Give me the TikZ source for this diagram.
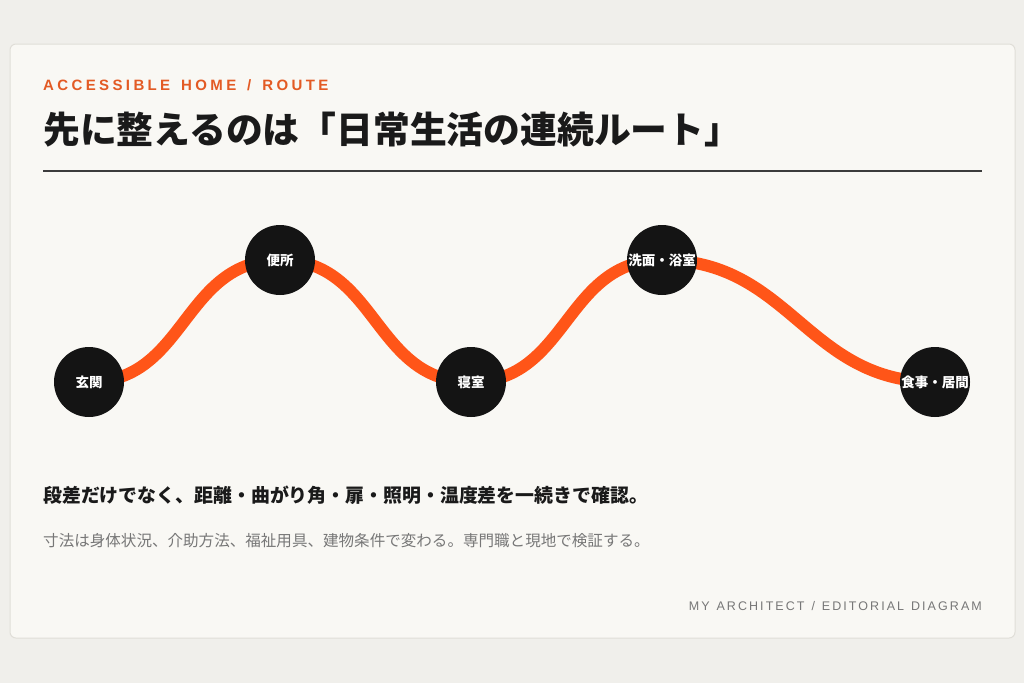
\documentclass[tikz,border=0pt]{standalone}
\usepackage{fontspec}
\setmainfont{Liberation Sans}
\newfontfamily\jp{Noto Sans CJK JP}
\newfontfamily\spaced{Liberation Sans}[LetterSpace=22.5, WordSpace=1.45]
\newfontfamily\spacedfoot{Liberation Sans}[LetterSpace=16.5, WordSpace=1.25]
\usetikzlibrary{calc}
\definecolor{pagebg}{HTML}{F0EFEB}
\definecolor{cardbg}{HTML}{F9F8F4}
\definecolor{cardline}{HTML}{E0DED8}
\definecolor{accent}{HTML}{E35A24}
\definecolor{route}{HTML}{FF5518}
\definecolor{ink}{HTML}{1A1A1A}
\definecolor{dot}{HTML}{141414}
\definecolor{muted}{HTML}{777777}
\pgfdeclarelayer{bg}
\pgfdeclarelayer{mid}
\pgfsetlayers{bg,mid,main}
\tikzset{
  stop/.style={circle, fill=dot, minimum size=70pt, inner sep=0pt,
    text=white, font=\jp\bfseries\fontsize{13.5}{14}\selectfont},
  routeline/.style={draw=route, line width=12pt, out=0, in=180, looseness=1.1},
  txt/.style={inner sep=0pt, anchor=west}
}
\begin{document}
\begin{tikzpicture}[x=1pt, y=-1pt]
\begin{pgfonlayer}{bg}
  \fill[pagebg] (0,0) rectangle (1024,683);
  \filldraw[fill=cardbg, draw=cardline, line width=1pt, rounded corners=6pt] (10,44) rectangle (1015,638);
\end{pgfonlayer}
\useasboundingbox (0,0) rectangle (1024,683);

\node[txt, text=accent, font=\spaced\bfseries\fontsize{15}{16}\selectfont] (eyebrow) at (43,85) {ACCESSIBLE HOME / ROUTE};
\node[txt, text=ink, font=\jp\bfseries\fontsize{36.8}{40}\selectfont] (title) at (43,130) {先に整えるのは「日常生活の連続ルート」};
\coordinate (rl) at (43,171);
\coordinate (rr) at (982,171);
\draw[ink!85, line width=1.4pt] (rl) -- (rr);

\node[stop] (a) at (89,382) {玄関};
\node[stop] (b) at (280,260) {便所};
\node[stop] (c) at (471,382) {寝室};
\node[stop] (d) at (662,260) {洗面・浴室};
\node[stop] (e) at (935,382) {食事・居間};

\begin{pgfonlayer}{mid}
  \path[routeline] (a.center) to (b.center) to (c.center) to (d.center) to (e.center);
\end{pgfonlayer}

\node[txt, text=ink, font=\jp\bfseries\fontsize{18.9}{20}\selectfont] (sub) at (43,495) {段差だけでなく、距離・曲がり角・扉・照明・温度差を一続きで確認。};
\node[txt, text=muted, font=\jp\fontsize{15.55}{17}\selectfont] (note) at (43,541) {寸法は身体状況、介助方法、福祉用具、建物条件で変わる。専門職と現地で検証する。};
\node[inner sep=0pt, anchor=east, text=muted, font=\spacedfoot\fontsize{12.5}{14}\selectfont] (foot) at (982,606) {MY ARCHITECT / EDITORIAL DIAGRAM};
\end{tikzpicture}
\end{document}
